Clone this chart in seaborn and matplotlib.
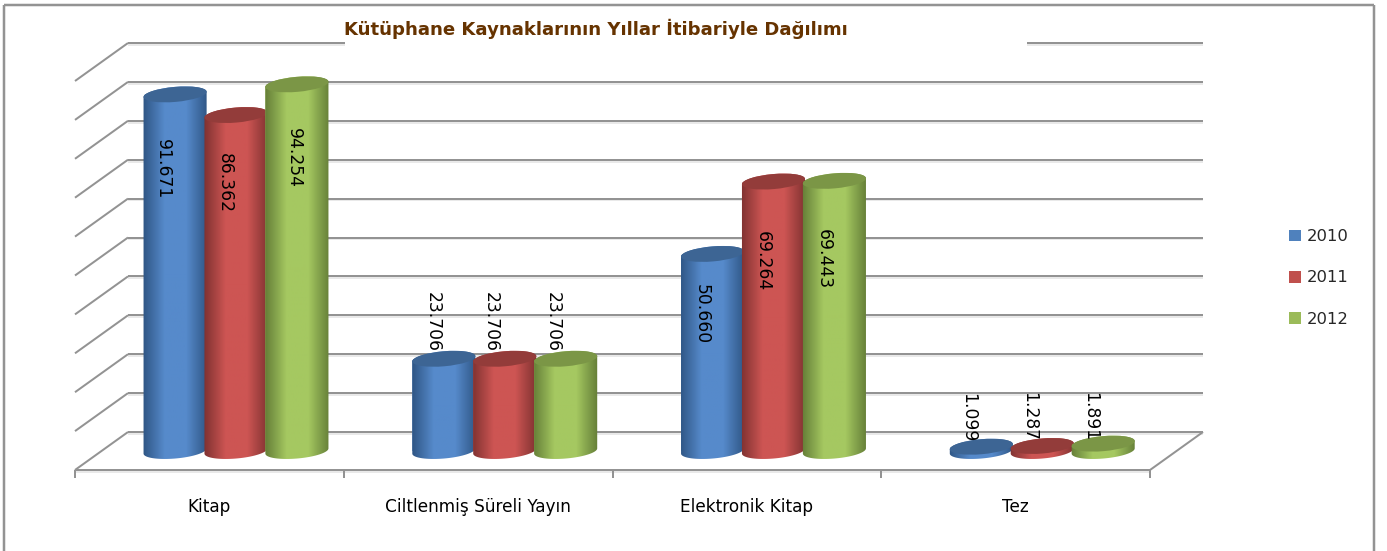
import numpy as np
import pandas as pd
import seaborn as sns
import matplotlib.pyplot as plt
from matplotlib.patches import Ellipse, Polygon, Rectangle
from matplotlib.transforms import Affine2D

categories = ['Kitap', 'Ciltlenmiş Süreli Yayın', 'Elektronik Kitap', 'Tez']
years = ['2010', '2011', '2012']
v2010 = [91671, 23706, 50660, 1099]
v2011 = [86362, 23706, 69264, 1287]
v2012 = [94254, 23706, 69443, 1891]
title = 'Kütüphane Kaynaklarının Yıllar İtibariyle Dağılımı'

W, H = 1387, 551
cat_w = 268.75
zero_y = 451
per_10k = 38.9

colors = ['#4F81BD', '#C0504D', '#9BBB59']
edge_cols = ['#2F5685', '#803231', '#657F38']
mid_cols = ['#568ACB', '#CD5553', '#A5C861']
top_cols = ['#3D6594', '#933C3A', '#7B9646']
# where each number starts, pixels below the bar top and left of the bar centre, per year
label_off = [[45, -67, 30, -54], [38, -67, 49, -54], [44, -67, 48, -52]]
label_dx = [[11, 10, 10, 12], [10, 13, 10, 12], [2, 12, 10, 12]]

df = pd.DataFrame({
    'kategori': categories * 3,
    'yil': np.repeat(years, 4),
    'deger': v2010 + v2011 + v2012,
})

sns.set_theme(style='white')
plt.rcParams['font.family'] = ['DejaVu Sans']

fig = plt.figure(figsize=(W / 100, H / 100), dpi=100)
ax = fig.add_axes([0, 0, 1, 1])

sns.barplot(data=df, x='kategori', y='deger', hue='yil', palette=colors, width=0.68,
            gap=0, saturation=1, linewidth=0, errorbar=None, ax=ax, zorder=3)

ax.set_xlim((0 - 235) / cat_w, (W - 235) / cat_w)
ax.set_ylim((zero_y - H) / per_10k * 10000, zero_y / per_10k * 10000)
ax.axis('off')

# top-left pixel coordinates
px = Affine2D().scale(1, -1).translate(0, H)


def pline(xs, ys, lw=2.0, color='#939393', z=1):
    ax.plot(xs, ys, color=color, lw=lw * 0.72, transform=px, zorder=z, solid_capstyle='butt', clip_on=False)


# outer frame
pline([3.5, 3.5], [551, 5], lw=2.5)
pline([3.5, 1374], [5, 5], lw=2.5)
pline([1374, 1374], [5, 551], lw=2.5)

# 3d walls
for k in range(11):
    y = 432 - per_10k * k
    pline([128, 1203], [y + 1.8, y + 1.8], lw=1.5, color='#E2E2E2', z=0.5)
    pline([128, 1203], [y, y])
    pline([75, 128], [y + 38, y])
pline([75, 1150], [470, 470])
pline([75, 1150], [471.8, 471.8], lw=1.5, color='#E2E2E2', z=0.5)
pline([1150, 1203], [470, 432])
for i in range(5):
    x = 75 + cat_w * i
    pline([x, x], [470, 478])


def ellipse_pts(cx, cy, a, b, t, ang):
    ex, ey = a * np.cos(t), b * np.sin(t)
    c, s = np.cos(ang), np.sin(ang)
    return np.column_stack([cx + ex * c - ey * s, cy + ex * s + ey * c])


tilt_deg = 5
tilt = np.deg2rad(tilt_deg)
for s, cont in enumerate(ax.containers):
    cmap = sns.blend_palette([edge_cols[s], mid_cols[s], mid_cols[s], edge_cols[s]], 64, as_cmap=True)
    for c, bar in enumerate(cont.patches):
        z = 3 + s + c * 0.01
        x0 = bar.get_x() + bar.get_width() / 2
        h = bar.get_height()
        cx, cy = ax.transData.transform((x0, h))
        bx, by = ax.transData.transform((x0, 0))
        cx += 1
        bx += 1
        a = bar.get_width() * cat_w / 2 + 1.2
        b = 7.5
        # cylinder outline: lower half at the base, upper half at the top
        low = ellipse_pts(bx, by, a, b, np.linspace(np.pi, 2 * np.pi, 40), tilt)
        up = ellipse_pts(cx, cy, a, b, np.linspace(0, np.pi, 40), tilt)
        outline = Polygon(np.vstack([low, up]), closed=True, fc='none', ec='none')
        ax.add_patch(outline)
        outline.set_transform(Affine2D())
        bar.set_zorder(z)
        bar.set_clip_path(outline)
        grad = np.linspace(0, 1, 64).reshape(1, -1)
        bw = bar.get_width()
        im = ax.imshow(grad, cmap=cmap, aspect='auto', zorder=z + 0.001,
                       extent=(x0 - bw / 2 - 0.003, x0 + bw / 2 + 0.012, -4000, h + 4000))
        im.set_clip_path(outline)
        ax.add_patch(Ellipse((cx, cy), 2 * a, 2 * b, angle=tilt_deg, transform=Affine2D(),
                             fc=top_cols[s], ec='none', zorder=z + 0.002))
        # value label, dotted thousands like the original
        txt = f'{h:,.0f}'.replace(',', '.')
        ax.annotate(txt, (x0, h), xytext=(-label_dx[s][c], -label_off[s][c]), textcoords='offset pixels',
                    rotation=270, ha='center', va='top', fontsize=12.3, color='black', zorder=20)

# imshow resets limits
ax.set_xlim((0 - 235) / cat_w, (W - 235) / cat_w)
ax.set_ylim((zero_y - H) / per_10k * 10000, zero_y / per_10k * 10000)

for i, name in enumerate(categories):
    ax.text(75 + cat_w * (i + 0.5), 507, name, transform=px, ha='center', va='center',
            fontsize=12.2, color='black')

# title sits on a white box which cuts the top grid line
ax.add_patch(Rectangle((345, 14), 682, 32, transform=px, fc='white', ec='none', zorder=2))
ax.text(344, 29, title, transform=px, ha='left', va='center', fontsize=13.03, fontweight='bold',
        color='#663300', zorder=21)

handles = ax.containers
ax.legend(handles=[c.patches[0] for c in handles], labels=years, loc='center left',
          bbox_to_anchor=(1289 / W, 1 - 278 / H), frameon=False, fontsize=11.8,
          handlelength=0.72, handleheight=0.72, handletextpad=0.35, labelspacing=1.6,
          borderpad=0, borderaxespad=0)

fig.savefig('out.png', dpi=100, facecolor='white')
